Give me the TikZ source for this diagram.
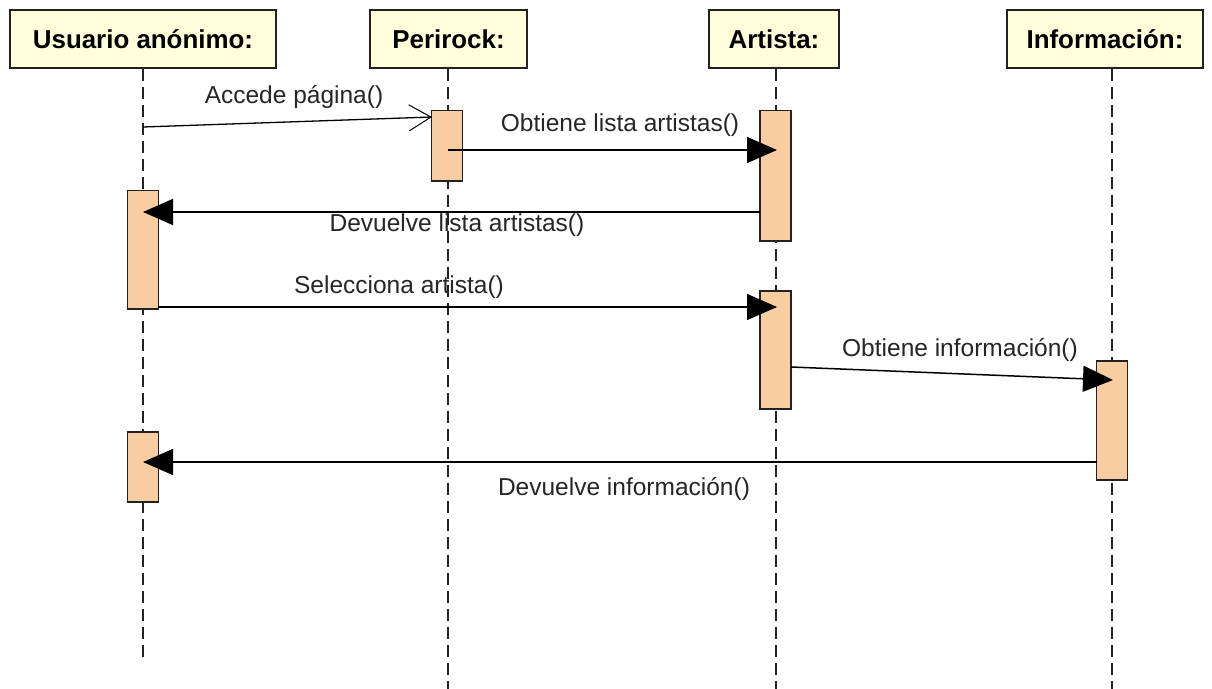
\documentclass[tikz,border=0pt]{standalone}
\usepackage{fontspec}
\setmainfont{Liberation Sans}
\usetikzlibrary{arrows.meta}
\definecolor{headfill}{HTML}{FFFFDC}
\definecolor{actfill}{HTML}{F9CDA2}
\definecolor{edge}{HTML}{222222}
\begin{document}
\begin{tikzpicture}[x=1bp,y=-1bp,
  head/.style={draw=edge,line width=1.5bp,fill=headfill,minimum height=58bp,inner sep=0pt,
    font=\fontsize{26}{31}\selectfont\bfseries},
  act/.style={draw=edge,line width=1.5bp,fill=actfill,minimum width=31bp,inner sep=0pt,anchor=north},
  lifeline/.style={line width=1.5bp,dash pattern=on 12bp off 6bp,edge},
  callmsg/.style={line width=1.5bp,-{Triangle[length=30bp,width=26bp]}},
  openmsg/.style={line width=1.3bp,-{Straight Barb[length=22bp,width=26bp,line width=1bp]}},
  lbl/.style={font=\fontsize{24.6}{29}\selectfont,inner sep=0pt,text=black!85}]
\useasboundingbox[fill=white] (0,0) rectangle (1212,689);

% heads
\node[head,minimum width=266bp] (u) at (143,39) {Usuario anónimo:};
\node[head,minimum width=157bp] (p) at (448.5,39) {Perirock:};
\node[head,minimum width=130bp] (a) at (774,39) {Artista:};
\node[head,minimum width=196bp] (i) at (1105,39) {Información:};

% lifeline ends
\coordinate (uend) at (143,660);
\coordinate (pend) at (448,689);
\coordinate (aend) at (776,689);
\coordinate (iend) at (1112,689);
\draw[lifeline] (u.south -| uend) -- (uend);
\draw[lifeline] (p.south -| pend) -- (pend);
\draw[lifeline] (a.south -| aend) -- (aend);
\draw[lifeline] (i.south -| iend) -- (iend);

% activations
\node[act,minimum height=70bp] (pa) at (447,110) {};
\node[act,minimum height=130bp] (aa1) at (775.5,110) {};
\node[act,minimum height=118bp] (ua1) at (143,190) {};
\node[act,minimum height=118bp] (aa2) at (775.5,290) {};
\node[act,minimum height=119bp] (ia) at (1112,360) {};
\node[act,minimum height=70bp] (ua2) at (143,431) {};

% message end points
\coordinate (m1s) at (143,127);
\coordinate (m1e) at (432,117);
\coordinate (m2s) at (448,150);
\coordinate (m2e) at (777,150);
\coordinate (m3s) at (760,212);
\coordinate (m3e) at (143,212);
\coordinate (m4s) at (158,307);
\coordinate (m4e) at (777,307);
\coordinate (m5s) at (791,367);
\coordinate (m5e) at (1113,380);
\coordinate (m6s) at (1097,462);
\coordinate (m6e) at (143,462);

\draw[openmsg] (m1s) -- (m1e);
\draw[callmsg] (m2s) -- (m2e);
\draw[callmsg] (m3s) -- (m3e);
\draw[callmsg] (m4s) -- (m4e);
\draw[callmsg] (m5s) -- (m5e);
\draw[callmsg] (m6s) -- (m6e);

% labels
\node[lbl] (l1) at (294,97) {Accede página()};
\node[lbl] (l2) at (620,125) {Obtiene lista artistas()};
\node[lbl] (l3) at (457,225) {Devuelve lista artistas()};
\node[lbl] (l4) at (399,287) {Selecciona artista()};
\node[lbl] (l5) at (960,350) {Obtiene información()};
\node[lbl] (l6) at (624,489) {Devuelve información()};
\end{tikzpicture}
\end{document}
